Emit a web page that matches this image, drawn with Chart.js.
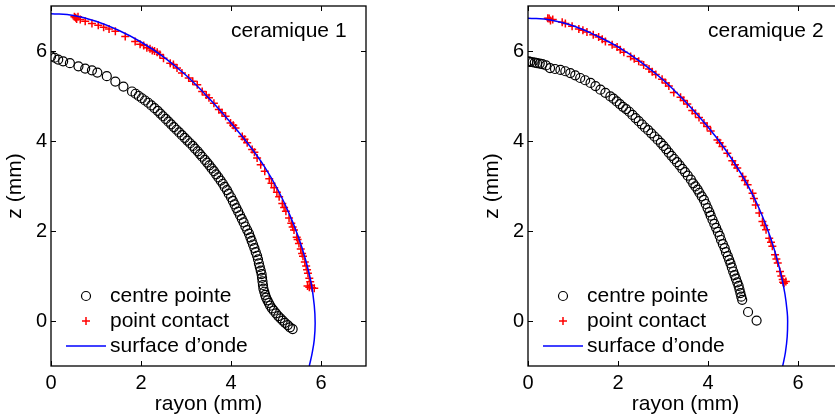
<!DOCTYPE html>
<html lang="fr">
<head>
  <meta charset="UTF-8">
  <title>ceramique 1 / ceramique 2</title>
  <script src="https://cdn.jsdelivr.net/npm/chart.js"></script>
  <style>
    html, body { margin: 0; padding: 0; overflow: hidden; background: #fff; }
    #wrap { position: relative; width: 835px; height: 419px; overflow: hidden; }
    .panel { position: absolute; top: 0; width: 380px; height: 419px; }
  </style>
</head>
<body>
  <div id="wrap">
    <div class="panel" style="left:0"><canvas id="chart1" width="380" height="419"></canvas></div>
    <div class="panel" style="left:477px"><canvas id="chart2" width="380" height="419"></canvas></div>
  </div>

  <script>
    // ceramique 1
    const centre1X = [0.00, 0.08, 0.16, 0.27, 0.42, 0.61, 0.76, 0.91, 1.03, 1.24, 1.43, 1.61, 1.80, 1.88, 1.95, 2.02, 2.09, 2.16, 2.23, 2.30, 2.37, 2.43, 2.49, 2.55, 2.61, 2.67, 2.73, 2.79, 2.85, 2.91, 2.97, 3.03, 3.09, 3.15, 3.20, 3.26, 3.31, 3.36, 3.42, 3.47, 3.52, 3.57, 3.62, 3.67, 3.72, 3.77, 3.82, 3.86, 3.91, 3.95, 4.00, 4.04, 4.08, 4.12, 4.16, 4.20, 4.24, 4.28, 4.32, 4.36, 4.40, 4.43, 4.46, 4.49, 4.52, 4.55, 4.58, 4.60, 4.62, 4.64, 4.66, 4.68, 4.69, 4.70, 4.71, 4.72, 4.74, 4.76, 4.78, 4.81, 4.84, 4.87, 4.91, 4.95, 5.00, 5.05, 5.10, 5.15, 5.20, 5.26, 5.31, 5.37];
    const centre1Y = [5.88, 5.85, 5.81, 5.77, 5.73, 5.66, 5.61, 5.57, 5.52, 5.44, 5.32, 5.21, 5.10, 5.05, 5.00, 4.95, 4.90, 4.85, 4.79, 4.73, 4.67, 4.61, 4.55, 4.49, 4.43, 4.37, 4.31, 4.25, 4.19, 4.13, 4.07, 4.01, 3.95, 3.89, 3.83, 3.77, 3.71, 3.65, 3.58, 3.52, 3.46, 3.39, 3.33, 3.26, 3.19, 3.12, 3.05, 2.98, 2.91, 2.83, 2.75, 2.67, 2.59, 2.51, 2.43, 2.35, 2.27, 2.19, 2.10, 2.02, 1.94, 1.86, 1.78, 1.70, 1.62, 1.53, 1.45, 1.37, 1.28, 1.20, 1.12, 1.04, 0.96, 0.88, 0.80, 0.72, 0.65, 0.58, 0.52, 0.46, 0.40, 0.34, 0.28, 0.23, 0.17, 0.11, 0.06, 0.01, -0.04, -0.09, -0.14, -0.18];
    const contact1X = [0.52, 0.55, 0.57, 0.60, 0.65, 0.76, 0.91, 1.05, 1.17, 1.29, 1.43, 1.65, 1.87, 1.98, 2.06, 2.13, 2.20, 2.25, 2.30, 2.36, 2.42, 2.50, 2.65, 2.72, 2.80, 2.91, 3.06, 3.15, 3.25, 3.36, 3.45, 3.51, 3.62, 3.73, 3.80, 3.88, 3.99, 4.05, 4.10, 4.25, 4.30, 4.36, 4.47, 4.52, 4.58, 4.66, 4.75, 4.85, 4.90, 4.96, 5.02, 5.07, 5.14, 5.18, 5.22, 5.29, 5.34, 5.37, 5.40, 5.46, 5.48, 5.51, 5.55, 5.58, 5.60, 5.64, 5.67, 5.69, 5.71, 5.74, 5.76, 5.78, 5.70, 5.74, 5.80, 5.85];
    const contact1Y = [6.76, 6.74, 6.71, 6.76, 6.70, 6.66, 6.61, 6.57, 6.53, 6.49, 6.44, 6.32, 6.21, 6.15, 6.12, 6.07, 6.05, 6.01, 6.00, 5.97, 5.92, 5.84, 5.73, 5.70, 5.62, 5.51, 5.40, 5.33, 5.25, 5.10, 5.02, 4.96, 4.84, 4.70, 4.63, 4.55, 4.40, 4.35, 4.29, 4.10, 4.04, 3.96, 3.81, 3.75, 3.62, 3.47, 3.33, 3.16, 3.06, 2.96, 2.86, 2.76, 2.61, 2.52, 2.44, 2.29, 2.17, 2.09, 2.02, 1.86, 1.81, 1.72, 1.60, 1.50, 1.44, 1.31, 1.22, 1.14, 1.06, 0.95, 0.87, 0.79, 0.78, 0.75, 0.74, 0.73];
    const onde1X = [0.00, 0.50, 1.00, 1.50, 2.00, 2.50, 3.00, 3.50, 4.00, 4.40, 4.75, 5.05, 5.30, 5.50, 5.66, 5.78, 5.85, 5.87, 5.85, 5.80, 5.74];
    const onde1Y = [6.83, 6.79, 6.66, 6.46, 6.20, 5.87, 5.46, 4.96, 4.40, 3.91, 3.42, 2.90, 2.37, 1.86, 1.35, 0.85, 0.35, -0.05, -0.42, -0.73, -1.00];

    // ceramique 2
    const centre2X = [0.01, 0.05, 0.10, 0.15, 0.20, 0.26, 0.32, 0.40, 0.49, 0.60, 0.72, 0.83, 0.94, 1.05, 1.16, 1.27, 1.39, 1.50, 1.61, 1.72, 1.83, 1.90, 1.97, 2.04, 2.11, 2.18, 2.25, 2.32, 2.39, 2.46, 2.53, 2.60, 2.67, 2.74, 2.81, 2.88, 2.95, 3.01, 3.07, 3.13, 3.19, 3.25, 3.31, 3.37, 3.43, 3.49, 3.55, 3.62, 3.67, 3.72, 3.77, 3.81, 3.86, 3.91, 3.95, 3.99, 4.03, 4.06, 4.10, 4.14, 4.18, 4.22, 4.26, 4.29, 4.33, 4.37, 4.40, 4.44, 4.47, 4.50, 4.53, 4.56, 4.59, 4.62, 4.65, 4.68, 4.70, 4.72, 4.74, 4.76, 4.89, 5.08];
    const centre2Y = [5.77, 5.76, 5.75, 5.74, 5.73, 5.72, 5.71, 5.68, 5.62, 5.60, 5.58, 5.55, 5.51, 5.46, 5.40, 5.35, 5.29, 5.22, 5.14, 5.07, 4.99, 4.94, 4.88, 4.82, 4.76, 4.71, 4.65, 4.58, 4.51, 4.44, 4.37, 4.30, 4.24, 4.17, 4.10, 4.03, 3.96, 3.89, 3.82, 3.74, 3.67, 3.60, 3.53, 3.46, 3.38, 3.31, 3.23, 3.14, 3.06, 2.99, 2.92, 2.85, 2.77, 2.69, 2.60, 2.51, 2.42, 2.34, 2.25, 2.16, 2.07, 1.98, 1.89, 1.80, 1.71, 1.62, 1.53, 1.44, 1.36, 1.28, 1.19, 1.10, 1.02, 0.94, 0.86, 0.78, 0.70, 0.62, 0.54, 0.47, 0.20, 0.01];
    const contact2X = [0.44, 0.47, 0.50, 0.55, 0.76, 0.83, 0.98, 1.13, 1.22, 1.31, 1.45, 1.57, 1.65, 1.72, 1.87, 1.98, 2.05, 2.13, 2.28, 2.36, 2.46, 2.57, 2.69, 2.76, 2.84, 2.98, 3.06, 3.13, 3.24, 3.39, 3.46, 3.54, 3.65, 3.72, 3.80, 3.91, 3.98, 4.06, 4.21, 4.26, 4.32, 4.43, 4.54, 4.60, 4.65, 4.77, 4.82, 4.88, 4.99, 5.02, 5.06, 5.14, 5.21, 5.25, 5.29, 5.36, 5.40, 5.43, 5.49, 5.52, 5.55, 5.60, 5.63, 5.66, 5.67, 5.69, 5.73];
    const contact2Y = [6.73, 6.72, 6.68, 6.70, 6.64, 6.61, 6.55, 6.49, 6.46, 6.42, 6.36, 6.31, 6.26, 6.21, 6.14, 6.09, 6.03, 5.97, 5.88, 5.83, 5.77, 5.69, 5.60, 5.54, 5.48, 5.37, 5.29, 5.22, 5.08, 4.97, 4.90, 4.82, 4.68, 4.61, 4.52, 4.40, 4.32, 4.22, 4.02, 3.96, 3.88, 3.73, 3.56, 3.47, 3.40, 3.21, 3.12, 3.03, 2.84, 2.72, 2.58, 2.40, 2.21, 2.12, 2.03, 1.84, 1.75, 1.66, 1.47, 1.38, 1.29, 1.10, 1.00, 0.92, 0.86, 0.84, 0.88];
    const onde2X = [0.00, 0.50, 1.00, 1.50, 2.00, 2.50, 3.00, 3.50, 4.00, 4.40, 4.75, 5.00, 5.20, 5.38, 5.52, 5.63, 5.71, 5.76, 5.77, 5.76, 5.72, 5.66];
    const onde2Y = [6.73, 6.69, 6.56, 6.35, 6.09, 5.76, 5.36, 4.87, 4.31, 3.79, 3.25, 2.79, 2.35, 1.88, 1.43, 1.00, 0.60, 0.20, 0.00, -0.35, -0.70, -1.00];

    const xTicks = [0, 2, 4, 6];
    const yTicks = [0, 2, 4, 6];
    const seriesLabels = ['centre pointe', 'point contact', 'surface d\u2019onde'];
    const panelTitles = ['ceramique 1', 'ceramique 2'];

    const FONT = 'Liberation Sans, Arial, Helvetica, sans-serif';

    function toPoints(xs, ys) {
      return xs.map((x, i) => ({ x: x, y: ys[i] }));
    }

    // cadre, graduations vers l'interieur, legende et titre dans le graphe
    const matlabFrame = {
      id: 'matlabFrame',
      afterDraw(chart, args, opts) {
        const ctx = chart.ctx;
        const a = chart.chartArea;
        const sx = chart.scales.x, sy = chart.scales.y;
        ctx.save();
        ctx.strokeStyle = '#000';
        ctx.lineWidth = 1.3;
        ctx.strokeRect(a.left, a.top, a.right - a.left, a.bottom - a.top);
        ctx.lineWidth = 1;
        ctx.beginPath();
        xTicks.forEach(v => {
          const px = Math.round(sx.getPixelForValue(v)) + 0.5;
          ctx.moveTo(px, a.bottom); ctx.lineTo(px, a.bottom - 5);
          ctx.moveTo(px, a.top); ctx.lineTo(px, a.top + 5);
        });
        yTicks.forEach(v => {
          const py = Math.round(sy.getPixelForValue(v)) + 0.5;
          ctx.moveTo(a.left, py); ctx.lineTo(a.left + 5, py);
          ctx.moveTo(a.right, py); ctx.lineTo(a.right - 5, py);
        });
        ctx.stroke();

        // titre
        ctx.fillStyle = '#000';
        ctx.font = '21px ' + FONT;
        ctx.textBaseline = 'middle';
        ctx.textAlign = 'left';
        ctx.fillText(opts.title, a.left + 180, a.top + 25);

        // legende
        const mx = a.left + 35, tx = a.left + 59;
        const r1 = a.top + 290, r2 = a.top + 315, r3 = a.top + 340;
        ctx.fillText(seriesLabels[0], tx, r1);
        ctx.fillText(seriesLabels[1], tx, r2);
        ctx.fillText(seriesLabels[2], tx, r3);
        ctx.lineWidth = 1.2;
        ctx.strokeStyle = '#000';
        ctx.beginPath();
        ctx.arc(mx, r1, 4.5, 0, Math.PI * 2);
        ctx.stroke();
        ctx.strokeStyle = '#ff0000';
        ctx.lineWidth = 1.5;
        ctx.beginPath();
        ctx.moveTo(mx - 4, r2); ctx.lineTo(mx + 4, r2);
        ctx.moveTo(mx, r2 - 4); ctx.lineTo(mx, r2 + 4);
        ctx.stroke();
        ctx.strokeStyle = '#0000ff';
        ctx.lineWidth = 1.5;
        ctx.beginPath();
        ctx.moveTo(a.left + 15, r3); ctx.lineTo(a.left + 55, r3);
        ctx.stroke();
        ctx.restore();
      }
    };

    function noPadding(s) {
      s.paddingTop = 0; s.paddingBottom = 0; s.paddingLeft = 0; s.paddingRight = 0;
    }

    function makeChart(id, title, cx, cy, px, py, ox, oy) {
      return new Chart(document.getElementById(id), {
        type: 'scatter',
        data: {
          datasets: [{
            label: seriesLabels[0],
            data: toPoints(cx, cy),
            pointStyle: 'circle',
            pointRadius: 4.5,
            borderColor: '#000',
            backgroundColor: 'rgba(0,0,0,0)',
            borderWidth: 1.2,
            order: 2
          }, {
            label: seriesLabels[1],
            data: toPoints(px, py),
            pointStyle: 'cross',
            pointRadius: 4,
            borderColor: '#ff0000',
            borderWidth: 1.5,
            order: 1
          }, {
            label: seriesLabels[2],
            data: toPoints(ox, oy),
            showLine: true,
            pointRadius: 0,
            borderColor: '#0000ff',
            borderWidth: 1.5,
            tension: 0.4,
            fill: false,
            order: 0
          }]
        },
        options: {
          responsive: false,
          animation: false,
          events: [],
          layout: { padding: { top: 6, right: 14, bottom: 0, left: 0 } },
          plugins: {
            legend: { display: false },
            tooltip: { enabled: false },
            matlabFrame: { title: title }
          },
          scales: {
            x: {
              type: 'linear',
              min: 0,
              max: 7,
              afterBuildTicks: s => { s.ticks = xTicks.map(v => ({ value: v })); },
              afterFit: s => { s.height = 53; noPadding(s); },
              grid: { display: false, drawTicks: false },
              border: { display: false },
              ticks: { font: { family: FONT, size: 20 }, color: '#000', padding: 5, maxRotation: 0, autoSkip: false },
              title: { display: true, text: 'rayon (mm)', color: '#000', font: { family: FONT, size: 21, lineHeight: 1.2 }, padding: { top: 0, bottom: 2 } }
            },
            y: {
              type: 'linear',
              min: -1,
              max: 7,
              afterBuildTicks: s => { s.ticks = yTicks.map(v => ({ value: v })); },
              afterFit: s => { s.width = 51; noPadding(s); },
              grid: { display: false, drawTicks: false },
              border: { display: false },
              ticks: { font: { family: FONT, size: 20 }, color: '#000', padding: 4, autoSkip: false },
              title: { display: true, text: 'z (mm)', color: '#000', font: { family: FONT, size: 21, lineHeight: 1.2 }, padding: { top: 3, bottom: 0 } }
            }
          }
        },
        plugins: [matlabFrame]
      });
    }

    makeChart('chart1', panelTitles[0], centre1X, centre1Y, contact1X, contact1Y, onde1X, onde1Y);
    makeChart('chart2', panelTitles[1], centre2X, centre2Y, contact2X, contact2Y, onde2X, onde2Y);
  </script>
</body>
</html>
